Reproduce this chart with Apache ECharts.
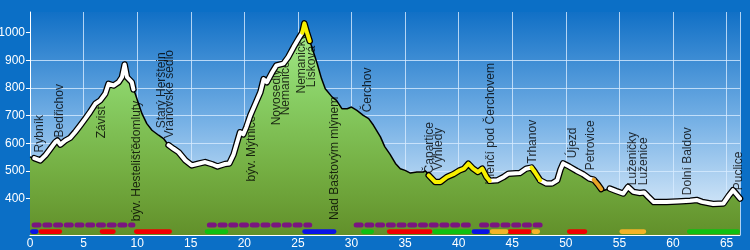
<!DOCTYPE html>
<html>
<head>
<meta charset="utf-8">
<script src="https://cdn.jsdelivr.net/npm/echarts@6/dist/echarts.min.js"></script>
<style>
html, body { margin: 0; padding: 0; background: #0b6fc6; }
#main { width: 750px; height: 250px; }
</style>
</head>
<body>
<div id="main"></div>
<script>
// trasa: vzdalenost (km) a nadmorska vyska (m)
var dist = [0, 0.4, 0.96, 1.43, 1.9, 2.36, 2.55, 2.83, 3.3, 3.76, 4.2, 4.7, 5.16, 5.6, 6.1, 6.56, 7.02, 7.33, 7.8, 8.27, 8.58, 8.83, 9.05, 9.5, 9.65,
  9.82, 10.13, 10.45, 10.9, 11.38, 12.0, 12.46, 12.93, 13.4, 13.86, 14.5, 15.1, 15.7, 16.35, 17.0, 17.5, 18.2, 18.6, 19.0, 19.3, 19.6, 19.9,
  20.2, 20.55, 21.0, 21.5, 21.8, 22.1, 22.6, 23.0, 23.65, 24.1, 24.6, 25.05, 25.4, 25.6, 25.85, 26.1, 26.3, 26.8, 27.2, 27.55, 28.2, 28.6,
  29.1, 29.6, 30.0, 30.5, 31.1, 31.6, 32.05, 32.7, 33.1, 33.6, 34.1, 34.55, 35.0, 35.5, 36.1, 36.7, 36.9, 37.2, 37.8, 38.3, 38.9, 39.5,
  40.1, 40.5, 40.9, 41.35, 41.8, 42.2, 42.6, 42.9, 43.6, 44.2, 44.65, 45.7, 46.3, 46.8, 47.1, 47.6, 48.2, 48.7, 49.2, 49.5, 49.75, 50.3,
  51.0, 51.6, 52.2, 52.6, 53.0, 53.3, 53.6, 54.1, 54.7, 55.35, 55.8, 56.3, 56.9, 57.3, 57.7, 58.2, 59.4, 60.4, 61.6, 62.2, 62.7, 63.75,
  64.7, 65.2, 65.6, 66.0, 66.25];
var elev = [550, 546, 538, 556, 580, 604, 610, 595, 610, 620, 640, 665, 689, 713, 743, 755, 779, 815, 809, 821, 839, 885, 839, 821, 795,
  779, 743, 707, 671, 647, 629, 617, 593, 580, 568, 538, 520, 526, 532, 524, 516, 525, 527, 560, 600, 640, 632,
  660, 700, 740, 785, 832, 821, 857, 882, 888, 912, 948, 978, 1000, 1034, 1000, 970, 948, 888, 834, 797, 767, 755,
  725, 725, 731, 719, 701, 689, 665, 623, 588, 560, 527, 508, 502, 492, 496, 496, 500, 484, 460, 460, 478, 488,
  502, 508, 526, 508, 496, 508, 478, 464, 466, 478, 490, 492, 508, 512, 496, 466, 454, 454, 466, 505, 527, 516,
  500, 488, 472, 468, 450, 434, 430, 436, 427, 418, 442, 424, 420, 422, 406, 387, 387, 389, 392, 395, 388, 380,
  382, 410, 430, 412, 400];

// useky trasy podle barvy
var whiteSegs = [[0.4, 9.65], [12.93, 25.4], [42.9, 46.8], [47.6, 52.6], [54.1, 66.25]];
var yellowSegs = [[25.4, 26.1], [37.2, 42.9], [46.8, 47.6]];
var orangeSegs = [[52.6, 53.3]];

// popisky mist
var placeNames = ['Rybník', 'Bedřichov', 'Závist', 'býv. Hestelišťědomluty', 'Starý Herštejn', 'Vranovské sedlo',
  'býv. Mýtnice', 'Novosedly', 'Nemanice', 'Nemanický', 'Lísková', 'Nad Baštovým mlýnem', 'Čerchov',
  'Čapartice', 'Výhledy', 'Klenčí pod Čerchovem', 'Trhanov', 'Újezd', 'Petrovice', 'Luženičky', 'Luženice',
  'Dolní Baldov', 'Puclice'];
var placeKm = [0.87, 2.73, 6.65, 10.0, 12.25, 13.04, 20.65, 22.98, 23.86, 25.35, 26.24, 28.43, 31.5,
  37.33, 38.1, 43.0, 46.95, 50.6, 52.3, 56.2, 57.25, 61.4, 66.1];
var placeElev = [567, 621, 618, 318, 654, 618, 462, 665, 701, 780, 803, 322, 712,
  491, 502, 451, 527, 546, 502, 448, 448, 412, 430];

// znaceni pod profilem
var purpleRuns = [[0.15, 9.6], [16.5, 26.1], [30.2, 41.0], [41.9, 47.6]];
var blueRuns = [[0, 0.8], [25.4, 28.6], [41.2, 42.9]];
var redRuns = [[0.8, 3.0], [6.5, 8.0], [9.7, 13.25], [33.3, 37.55], [44.55, 46.8], [50.1, 52.0]];
var greenRuns = [[16.3, 18.5], [30.9, 32.1], [37.55, 41.2], [61.3, 66.25]];
var orangeRuns = [[42.9, 44.65], [46.8, 47.6], [55.0, 57.5]];

var yLabels = [400, 500, 600, 700, 800, 900, 1000];

var myChart = echarts.init(document.getElementById('main'));

function pick(segs) {
    return dist.map(function (d, i) {
        var on = segs.some(function (s) { return d >= s[0] - 1e-6 && d <= s[1] + 1e-6; });
        return [d, on ? elev[i] : null];
    });
}

var profile = dist.map(function (d, i) { return [d, elev[i]]; });
var barColors = ['#0a14e6', '#f00000', '#10c010', '#f4b428'];
var bars = [];
[blueRuns, redRuns, greenRuns, orangeRuns].forEach(function (runs, c) {
    runs.forEach(function (r) { bars.push([r[0], r[1], c]); });
});

var font = 'Liberation Sans, Arial, sans-serif';

var option = {
    backgroundColor: '#0b6fc6',
    animation: false,
    grid: {
        left: 30, right: 10, top: 12, bottom: 15,
        containLabel: false,
        outerBoundsMode: 'none',
        show: true,
        borderWidth: 0,
        backgroundColor: new echarts.graphic.LinearGradient(0, 0, 0, 1, [
            {offset: 0, color: '#1170c6'},
            {offset: 0.5, color: '#78b2e6'},
            {offset: 1, color: '#eef6fd'}
        ])
    },
    xAxis: {
        type: 'value',
        min: 0, max: 66.25, interval: 5,
        axisLine: {lineStyle: {color: '#ffffff', width: 1}},
        axisTick: {show: false},
        axisLabel: {color: '#ffffff', fontSize: 12, fontFamily: font, margin: 3, showMaxLabel: false},
        splitLine: {show: true, lineStyle: {color: 'rgba(215,235,255,0.8)', width: 1}}
    },
    yAxis: {
        type: 'value',
        min: 268, max: 1075, splitNumber: 8,
        axisLine: {show: true, lineStyle: {color: '#ffffff', width: 1}},
        axisTick: {show: true, length: 4, lineStyle: {color: '#ffffff'}, customValues: yLabels},
        axisLabel: {
            color: '#ffffff', fontSize: 12, fontFamily: font, margin: 5, customValues: yLabels,
            formatter: function (v) { return String(v); }
        },
        splitLine: {show: true, showMinLine: false, showMaxLine: false, lineStyle: {color: 'rgba(215,235,255,0.8)', width: 1}}
    },
    series: [
        {
            type: 'line', data: profile, symbol: 'none', z: 2, silent: true,
            lineStyle: {color: '#000000', width: 1.5},
            areaStyle: {
                opacity: 1,
                color: new echarts.graphic.LinearGradient(0, 0, 0, 1, [
                    {offset: 0, color: '#a4ec8c'},
                    {offset: 0.35, color: '#88ce64'},
                    {offset: 0.7, color: '#74ae42'},
                    {offset: 1, color: '#62902a'}
                ])
            }
        },
        {
            type: 'scatter', z: 3, silent: true, symbolSize: 0,
            data: placeNames.map(function (n, i) { return {name: n, value: [placeKm[i], placeElev[i]]}; }),
            label: {
                show: true, formatter: '{b}', rotate: 90, position: [0, 0],
                align: 'left', verticalAlign: 'middle',
                color: '#000000', fontSize: 12, fontFamily: font
            }
        },
        {
            type: 'line', data: pick(whiteSegs.concat(yellowSegs, orangeSegs)), symbol: 'none', z: 4, silent: true,
            lineStyle: {color: '#000000', width: 6.5, join: 'round', cap: 'round'}
        },
        {
            type: 'line', data: pick(whiteSegs), symbol: 'none', z: 5, silent: true,
            lineStyle: {color: '#ffffff', width: 4, join: 'round', cap: 'round'}
        },
        {
            type: 'line', data: pick(yellowSegs), symbol: 'none', z: 5, silent: true,
            lineStyle: {color: '#f8f000', width: 4, join: 'round', cap: 'round'}
        },
        {
            type: 'line', data: pick(orangeSegs), symbol: 'none', z: 5, silent: true,
            lineStyle: {color: '#e8a428', width: 4, join: 'round', cap: 'round'}
        },
        {
            type: 'custom', z: 6, silent: true,
            data: purpleRuns,
            encode: {x: [0, 1]},
            renderItem: function (params, api) {
                var cs = params.coordSys;
                var y = cs.y + cs.height - 10;
                var a = api.coord([api.value(0), 500]);
                var b = api.coord([api.value(1), 500]);
                return {
                    type: 'line',
                    shape: {x1: a[0] + 2.5, y1: y, x2: b[0], y2: y},
                    style: {stroke: '#7a1580', lineWidth: 5, lineDash: [5, 5.72], lineCap: 'round'}
                };
            }
        },
        {
            type: 'custom', z: 6, silent: true,
            data: bars,
            encode: {x: [0, 1]},
            renderItem: function (params, api) {
                var cs = params.coordSys;
                var h = 4.8;
                var y = cs.y + cs.height - 3.4;
                var a = api.coord([api.value(0), 500]);
                var b = api.coord([api.value(1), 500]);
                return {
                    type: 'rect',
                    shape: {x: a[0], y: y - h / 2, width: b[0] - a[0], height: h, r: h / 2},
                    style: {fill: barColors[api.value(2)]}
                };
            }
        }
    ]
};
myChart.setOption(option);
</script>
</body>
</html>
